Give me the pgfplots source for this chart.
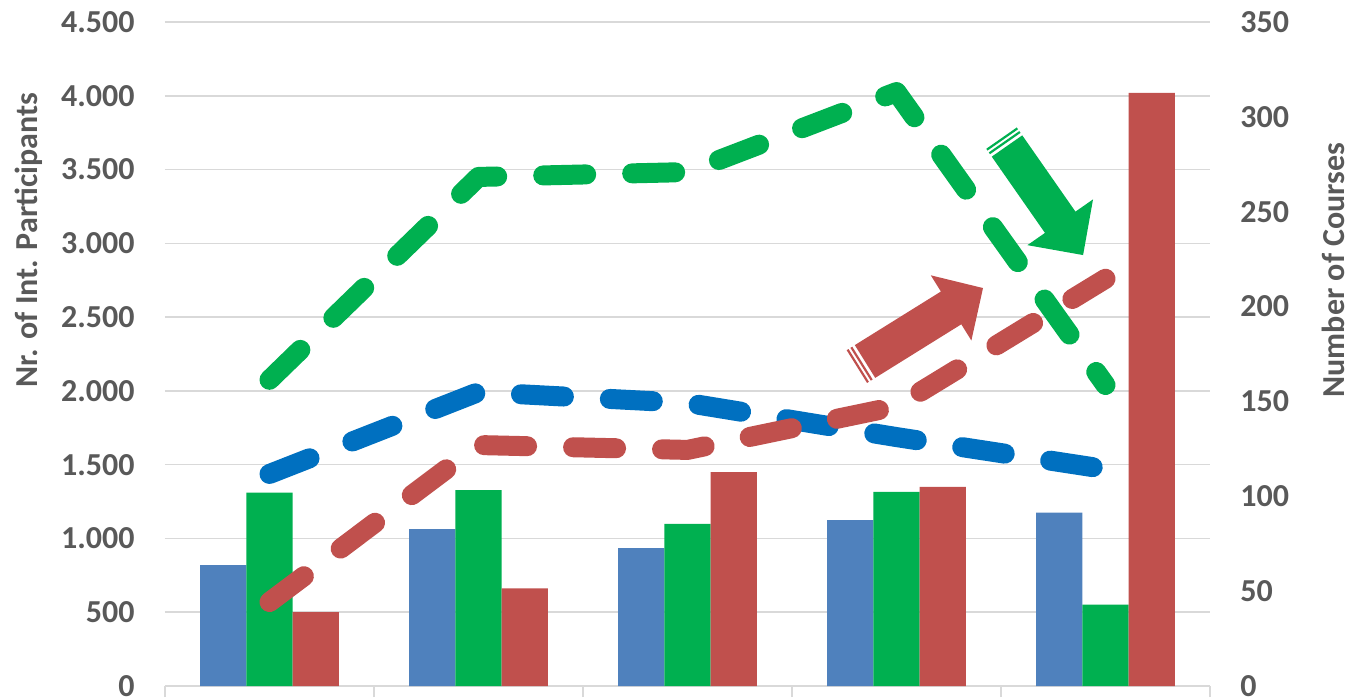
\documentclass[border=0pt]{standalone}
\usepackage{pgfplots}
\pgfplotsset{compat=1.18}
\usepackage{fontspec}
\setmainfont{Carlito}

\definecolor{barblue}{HTML}{4F81BD}
\definecolor{bargreen}{HTML}{00B050}
\definecolor{barred}{HTML}{C0504D}
\definecolor{lineblue}{HTML}{0070C0}
\definecolor{gridgray}{HTML}{D9D9D9}
\definecolor{labelgray}{HTML}{595959}

\newcommand{\lblfont}{\bfseries\fontsize{16}{19}\selectfont}

\pgfplotsset{
  dashline/.style={line width=10pt, dash pattern=on 21.5pt off 23pt,
    line cap=round, line join=round, mark=none},
  onebar/.style={ybar, bar width=23.15pt, draw=none},
}

\begin{document}
\begin{tikzpicture}
\useasboundingbox (-82.5pt,-5.5pt) rectangle (597.5pt,343pt);

% left axis: bars and lines
\begin{axis}[
    at={(0pt,0pt)}, anchor=south west,
    scale only axis, width=522.5pt, height=332pt,
    xmin=-0.5, xmax=4.5, ymin=0, ymax=4500,
    xtick={-0.5,0.5,1.5,2.5,3.5,4.5}, xticklabels={},
    ytick={0,500,...,4500},
    axis x line*=bottom, axis y line*=left,
    x axis line style={draw=gridgray, line width=0.75pt},
    y axis line style={draw=none},
    xtick style={draw=gridgray, line width=0.75pt},
    ytick style={draw=none},
    tick align=outside, major tick length=5.5pt,
    ymajorgrids, grid style={draw=gridgray, line width=0.75pt},
    yticklabel style={font=\lblfont, text=labelgray, inner sep=0pt, xshift=-9.5pt},
    /pgf/number format/1000 sep={.},
    /pgf/number format/assume math mode=true,
]
\addplot[onebar, bar shift=-23.15pt, fill=barblue] coordinates
  {(0,820) (1,1064) (2,935) (3,1125) (4,1175)};
\addplot[onebar, bar shift=0pt, fill=bargreen] coordinates
  {(0,1310) (1,1328) (2,1098) (3,1315) (4,551)};
\addplot[onebar, bar shift=23.15pt, fill=barred] coordinates
  {(0,500) (1,662) (2,1450) (3,1349) (4,4019)};

\addplot[dashline, draw=bargreen] coordinates
  {(0,2075) (1,3450) (2,3483) (3,4025) (4,2040)};
\addplot[dashline, draw=lineblue] coordinates
  {(0,1437) (1,1992) (2,1918) (3,1687) (4,1470)};
\addplot[dashline, draw=barred] coordinates
  {(0,569) (1,1633) (2,1600) (3,1895) (4,2760)};
\end{axis}

% right axis: number of courses
\begin{axis}[
    at={(0pt,0pt)}, anchor=south west,
    scale only axis, width=522.5pt, height=332pt,
    xmin=-0.5, xmax=4.5, ymin=0, ymax=350,
    ytick={0,50,...,350},
    axis y line*=right, hide x axis,
    y axis line style={draw=none},
    ytick style={draw=none},
    yticklabel style={font=\lblfont, text=labelgray, inner sep=0pt, xshift=15pt},
    /pgf/number format/assume math mode=true,
]
\end{axis}

\node[rotate=90, font=\lblfont, text=labelgray] at (-68pt,223pt) {Nr. of Int. Participants};
\node[rotate=90, font=\lblfont, text=labelgray] at (584pt,208pt) {Number of Courses};

% green arrow
\begin{scope}[shift={(421pt,270pt)}, rotate=-55.1]
  \fill[bargreen] (0,-9.3pt) -- (46.5pt,-9.3pt) -- (46.5pt,-20pt) -- (66.5pt,0pt)
    -- (46.5pt,20pt) -- (46.5pt,9.3pt) -- (0,9.3pt) -- cycle;
  \fill[bargreen] (-2.6pt,-9.3pt) rectangle (-1.5pt,9.3pt);
  \fill[bargreen] (-4.8pt,-9.3pt) rectangle (-3.7pt,9.3pt);
\end{scope}

% red arrow
\begin{scope}[shift={(350pt,162.25pt)}, rotate=31.9]
  \fill[barred] (0,-9.65pt) -- (50.7pt,-9.65pt) -- (50.7pt,-19.2pt) -- (69.5pt,0pt)
    -- (50.7pt,19.2pt) -- (50.7pt,9.65pt) -- (0,9.65pt) -- cycle;
  \fill[barred] (-2.6pt,-9.65pt) rectangle (-1.5pt,9.65pt);
  \fill[barred] (-4.8pt,-9.65pt) rectangle (-3.7pt,9.65pt);
\end{scope}
\end{tikzpicture}
\end{document}
